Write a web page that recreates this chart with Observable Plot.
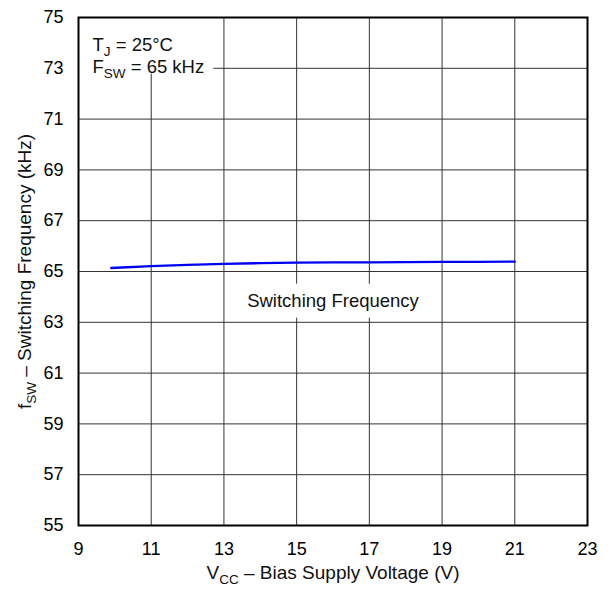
<!DOCTYPE html>
<html><head><meta charset="utf-8">
<script src="https://cdn.jsdelivr.net/npm/d3@7"></script>
<script src="https://cdn.jsdelivr.net/npm/@observablehq/plot@0.6"></script>
<style>
body{margin:0;background:#fff;}
#chart svg{display:block;}
</style></head><body><div id="chart"></div>
<script>
// ---- data ----
const vcc = [9.9, 11, 12, 13, 14, 15, 16, 17, 18, 19, 20, 21];
const fsw = [65.14, 65.21, 65.26, 65.30, 65.33, 65.35, 65.36, 65.36, 65.37, 65.38, 65.38, 65.39];
const xTicks = [9, 11, 13, 15, 17, 19, 21, 23];
const yTicks = [55, 57, 59, 61, 63, 65, 67, 69, 71, 73, 75];
const xLabel = "V_{CC} – Bias Supply Voltage (V)";
const yLabel = "f_{SW} – Switching Frequency (kHz)";
const condLines = ["T_{J} = 25°C", "F_{SW} = 65 kHz"];
const seriesLabel = "Switching Frequency";
const seriesLabelX = 16.0;
const seriesLabelY = 63.85;

const data = vcc.map((v, i) => ({v, f: fsw[i]}));
const font = "'Liberation Sans', Arial, Helvetica, sans-serif";
const gridStyle = {stroke: "#333", strokeOpacity: 1, strokeWidth: 1};

const chart = Plot.plot({
  width: 608, height: 590,
  marginLeft: 78, marginRight: 21, marginTop: 17, marginBottom: 65,
  style: {fontFamily: font, fontSize: "18px", background: "white", color: "black"},
  x: {domain: [xTicks[0], xTicks[xTicks.length - 1]]},
  y: {domain: [yTicks[0], yTicks[yTicks.length - 1]]},
  marks: [
    Plot.gridX(xTicks.slice(1, -1), gridStyle),
    Plot.gridY(yTicks.slice(1, -1), gridStyle),
    Plot.line(data, {x: "v", y: "f", stroke: "#0000f0", strokeWidth: 2.4}),
    Plot.text([seriesLabel], {x: () => seriesLabelX, y: () => seriesLabelY, text: d => d, fontSize: 18.5, fill: "#111", className: "boxed-series"}),
    Plot.text([condLines[0]], {frameAnchor: "top-left", dx: 14, dy: 20, text: d => d, textAnchor: "start", fontSize: 18.5, fill: "#111", className: "boxed-cond"}),
    Plot.text([condLines[1]], {frameAnchor: "top-left", dx: 14, dy: 42, text: d => d, textAnchor: "start", fontSize: 18.5, fill: "#111", className: "boxed-cond"}),
    Plot.frame({stroke: "black", strokeWidth: 2}),
    Plot.axisX(xTicks, {tickSize: 0, tickPadding: 17, fontSize: 18, label: null, tickFormat: d => String(d)}),
    Plot.axisY(yTicks, {tickSize: 0, tickPadding: 15, fontSize: 18, label: null, tickFormat: d => String(d)}),
    Plot.text([xLabel], {frameAnchor: "bottom", dy: 53, text: d => d, fontSize: 19, fill: "#111", textAnchor: "middle", className: "rich"}),
    Plot.text([yLabel], {frameAnchor: "left", dx: -54, rotate: -90, text: d => d, fontSize: 19, fill: "#111", textAnchor: "middle", className: "rich"})
  ]
});

document.getElementById("chart").appendChild(chart);

// ---- subscripts: turn "_{..}" into tspans ----
const NS = "http://www.w3.org/2000/svg";
chart.querySelectorAll("text").forEach(t => {
  const s = t.textContent;
  if (!s.includes("_{")) return;
  while (t.firstChild) t.removeChild(t.firstChild);
  const parts = s.split(/_\{([^}]*)\}/);
  let shifted = false;
  parts.forEach((p, i) => {
    if (p === "") return;
    const ts = document.createElementNS(NS, "tspan");
    ts.textContent = p;
    if (i % 2 === 1) {
      ts.setAttribute("font-size", "13.5");
      ts.setAttribute("dy", "5");
      shifted = true;
    } else if (shifted) {
      ts.setAttribute("dy", "-5");
      shifted = false;
    }
    t.appendChild(ts);
  });
});

// ---- white boxes behind annotations ----
function boxBehind(cls, pad) {
  const groups = chart.querySelectorAll("g." + cls);
  if (!groups.length) return;
  let x0 = Infinity, y0 = Infinity, x1 = -Infinity, y1 = -Infinity;
  groups.forEach(g => {
    const b = g.getBBox();
    const tr = g.transform.baseVal.consolidate();
    const ox = tr ? tr.matrix.e : 0, oy = tr ? tr.matrix.f : 0;
    x0 = Math.min(x0, b.x + ox); y0 = Math.min(y0, b.y + oy);
    x1 = Math.max(x1, b.x + b.width + ox); y1 = Math.max(y1, b.y + b.height + oy);
  });
  const r = document.createElementNS(NS, "rect");
  r.setAttribute("x", x0 - pad[3]);
  r.setAttribute("y", y0 - pad[0]);
  r.setAttribute("width", x1 - x0 + pad[1] + pad[3]);
  r.setAttribute("height", Math.max(0, y1 - y0 + pad[0] + pad[2]));
  r.setAttribute("fill", "white");
  groups[0].parentNode.insertBefore(r, groups[0]);
}
boxBehind("boxed-series", [6, 14, 7, 14]);
boxBehind("boxed-cond", [17, 9, -7, 14]);
</script>
</body></html>
